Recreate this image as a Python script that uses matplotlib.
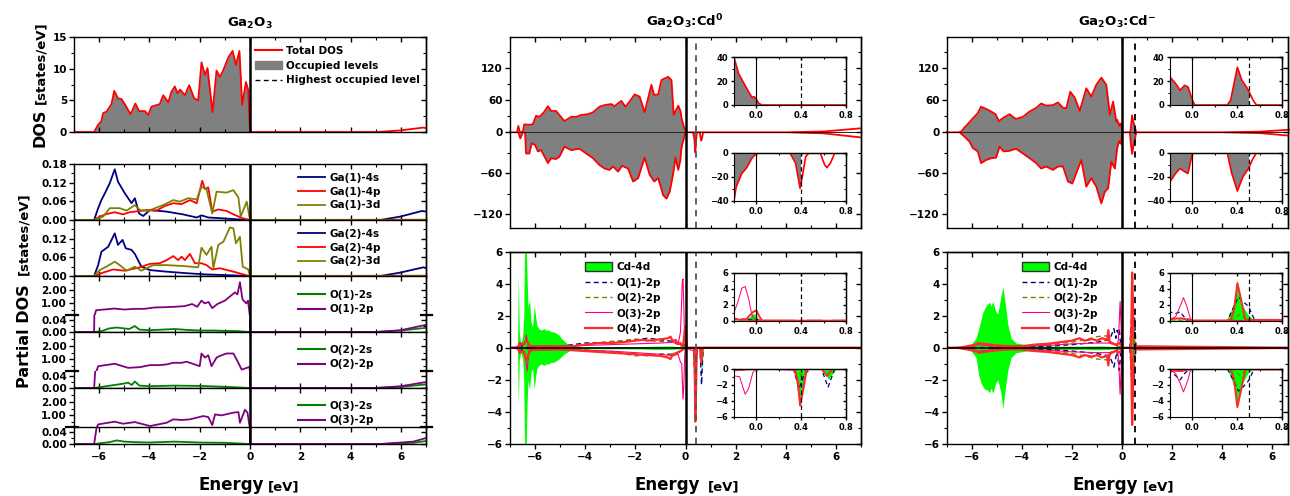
import matplotlib.pyplot as plt
from matplotlib.ticker import MultipleLocator, FormatStrFormatter
from matplotlib.patches import Rectangle, Patch
from matplotlib.lines import Line2D

W, H = 1290, 496

# ---------------- Ga2O3 : total DOS ----------------
tot_e = [-7, -6.2, -6.04, -5.91, -5.84, -5.71, -5.51, -5.4, -5.25, -5.11, -4.98, -4.75, -4.56, -4.41,
         -4.18, -4.05, -3.92, -3.59, -3.45, -3.25, -3.12, -2.99, -2.88, -2.78, -2.59, -2.42, -2.22,
         -2.06, -1.93, -1.79, -1.69, -1.49, -1.33, -1.2, -1.09, -0.86, -0.69, -0.56, -0.42, -0.31,
         -0.16, -0.07, 0.0, 5.05, 5.98, 6.9, 7.0]
tot_v = [0, 0, 1.15, 1.7, 3.0, 3.2, 4.4, 6.5, 5.3, 5.2, 4.4, 2.8, 4.5, 3.3, 3.3, 2.7, 4.0, 4.4, 5.8,
         4.7, 6.4, 7.2, 6.1, 6.7, 5.8, 7.4, 5.3, 5.0, 11.0, 9.0, 10.1, 3.1, 9.7, 8.7, 9.5, 11.8, 12.8,
         10.6, 12.8, 4.3, 7.9, 6.6, 0, 0, 0.25, 0.7, 0.6]

# Ga(1)
g1s_e = [-7, -6.2, -6.04, -5.91, -5.74, -5.58, -5.38, -5.25, -4.98, -4.71, -4.58, -4.41, -4.25, -3.98,
         -3.32, -2.66, -2.12, -1.93, -1.66, -1.2, -0.66, 0, 5.18, 5.98, 6.84, 7]
g1s_v = [0, 0, 0.038, 0.064, 0.091, 0.118, 0.163, 0.123, 0.086, 0.054, 0.070, 0.021, 0.013, 0.032,
         0.027, 0.018, 0.008, 0.015, 0.008, 0.006, 0.003, 0, 0, 0.011, 0.029, 0.027]
g1p_e = [-7, -6.2, -5.98, -5.71, -5.38, -5.05, -4.78, -4.38, -4.12, -3.72, -3.39, -3.05, -2.72, -2.39,
         -2.12, -1.9, -1.79, -1.66, -1.5, -1.26, -0.93, -0.6, -0.27, 0, 7]
g1p_v = [0, 0, 0.011, 0.019, 0.025, 0.018, 0.025, 0.029, 0.032, 0.030, 0.045, 0.054, 0.051, 0.064,
         0.054, 0.126, 0.099, 0.105, 0.027, 0.034, 0.029, 0.016, 0.005, 0, 0.001]
g1d_e = [-7, -6.2, -5.84, -5.58, -5.18, -4.91, -4.58, -4.38, -4.05, -3.78, -3.45, -3.05, -2.79, -2.46,
         -2.12, -1.93, -1.73, -1.5, -1.33, -0.93, -0.66, -0.46, -0.37, -0.13, 0, 7]
g1d_v = [0, 0, 0.011, 0.038, 0.038, 0.030, 0.048, 0.032, 0.029, 0.038, 0.048, 0.064, 0.059, 0.070,
         0.066, 0.107, 0.099, 0.021, 0.091, 0.088, 0.096, 0.072, 0.011, 0.059, 0, 0]

# Ga(2)
g2s_e = [-7, -6.2, -6.04, -5.91, -5.64, -5.38, -5.25, -5.07, -4.94, -4.71, -4.58, -4.32, -3.98, -3.32,
         -2.52, -1.73, -0.66, 0, 5.18, 5.98, 6.9, 7]
g2s_v = [0, 0, 0.035, 0.078, 0.094, 0.137, 0.1, 0.116, 0.089, 0.084, 0.071, 0.030, 0.019, 0.014,
         0.009, 0.005, 0.002, 0, 0, 0.011, 0.028, 0.025]
g2p_e = [-7, -6.2, -5.84, -5.44, -4.98, -4.38, -3.98, -3.59, -3.32, -3.05, -2.86, -2.72, -2.59, -2.39,
         -2.19, -1.93, -1.73, -1.5, -1.2, -0.66, -0.13, 0, 7]
g2p_v = [0, 0, 0.011, 0.021, 0.017, 0.028, 0.039, 0.041, 0.051, 0.064, 0.051, 0.062, 0.051, 0.071,
         0.041, 0.041, 0.035, 0.021, 0.025, 0.014, 0.002, 0, 0.001]
g2d_e = [-7, -6.2, -5.98, -5.71, -5.38, -5.18, -4.91, -4.58, -4.32, -3.85, -3.32, -2.66, -2.06, -1.93,
         -1.73, -1.53, -1.46, -1.26, -1.06, -0.8, -0.66, -0.56, -0.4, -0.29, -0.07, 0, 7]
g2d_v = [0, 0, 0.019, 0.030, 0.046, 0.035, 0.017, 0.030, 0.017, 0.035, 0.035, 0.032, 0.028, 0.091,
         0.068, 0.094, 0.025, 0.1, 0.11, 0.156, 0.153, 0.105, 0.126, 0.03, 0.021, 0, 0]

# O(1), O(2), O(3)
o1p_e = [-7, -6.2, -6.12, -5.8, -5.4, -5.0, -4.6, -4.2, -3.8, -3.4, -3.0, -2.6, -2.3, -2.1, -1.93, -1.8,
         -1.65, -1.5, -1.3, -1.0, -0.8, -0.6, -0.5, -0.4, -0.3, -0.15, -0.08, 0, 5.0, 6.0, 7.0]
o1p_v = [0, 0, 0.5, 0.55, 0.62, 0.55, 0.6, 0.6, 0.7, 0.72, 0.75, 0.8, 0.95, 0.75, 1.2, 1.0, 1.1, 0.65,
         0.95, 1.2, 1.5, 1.8, 1.65, 2.55, 1.3, 1.0, 1.2, 0, 0, 0.006, 0.024]
o1s_e = [-7, -6.2, -5.9, -5.6, -5.3, -5.0, -4.8, -4.58, -4.4, -4.0, -3.5, -3.0, -2.5, -2.0, -1.5, -1.0,
         -0.5, 0, 5.0, 6.0, 7.0]
o1s_v = [0, 0, 0.003, 0.012, 0.015, 0.012, 0.010, 0.020, 0.008, 0.006, 0.008, 0.010, 0.007, 0.005,
         0.005, 0.004, 0.003, 0, 0, 0.005, 0.014]
o2p_e = [-7, -6.2, -6.11, -6.04, -5.38, -4.85, -4.38, -3.98, -3.59, -3.32, -3.05, -2.72, -2.52, -2.39,
         -2.0, -1.93, -1.79, -1.66, -1.53, -1.33, -1.2, -0.93, -0.66, -0.5, -0.33, -0.13, -0.02, 0,
         5.0, 6.0, 7.0]
o2p_v = [0, 0, 0.12, 0.5, 0.68, 0.38, 0.43, 0.58, 0.58, 0.63, 0.75, 0.75, 0.83, 0.75, 0.5, 1.43, 1.13,
         1.3, 0.5, 1.13, 1.25, 1.43, 1.43, 0.88, 0.25, 0.38, 0.45, 0, 0, 0.006, 0.02]
o2s_e = [-7, -6.2, -5.8, -5.4, -5.0, -4.85, -4.7, -4.58, -4.4, -4.0, -3.0, -2.0, -1.65, -1.0, 0, 5.0,
         6.0, 7.0]
o2s_v = [0, 0, 0.005, 0.010, 0.015, 0.018, 0.010, 0.022, 0.008, 0.006, 0.008, 0.007, 0.006, 0.004, 0,
         0, 0.004, 0.012]
o3p_e = [-7, -6.2, -6.11, -6.04, -5.38, -5.05, -4.58, -3.98, -3.32, -3.05, -2.72, -2.39, -2.12, -1.86,
         -1.66, -1.5, -1.39, -1.13, -0.66, -0.46, -0.4, -0.2, -0.1, 0, 5.2, 6.5, 7.0]
o3p_v = [0, 0, 0.05, 0.34, 0.54, 0.39, 0.51, 0.22, 0.46, 0.71, 0.66, 0.71, 0.83, 0.95, 0.88, 0.29,
         1.07, 1.0, 1.2, 1.24, 0.46, 1.41, 1.2, 0, 0, 0.008, 0.02]
o3s_e = [-7, -6.2, -5.6, -5.3, -5.0, -4.5, -4.0, -3.0, -2.0, -1.0, 0, 5.2, 6.5, 7.0]
o3s_v = [0, 0, 0.006, 0.012, 0.008, 0.006, 0.005, 0.008, 0.005, 0.004, 0, 0, 0.004, 0.01]

# ---------------- Ga2O3:Cd0 : total DOS (spin up / down) ----------------
cd0u_e = [-7, -6.72, -6.67, -6.6, -6.49, -6.43, -6.23, -6.09, -5.96, -5.83, -5.65, -5.49, -5.36, -5.16,
          -5.03, -4.83, -4.56, -4.36, -4.16, -3.89, -3.69, -3.43, -3.23, -2.96, -2.83, -2.56, -2.4,
          -2.23, -2.03, -1.83, -1.63, -1.36, -1.25, -1.09, -0.96, -0.69, -0.56, -0.47, -0.29, -0.2,
          -0.16, -0.12, -0.07, -0.04, -0.02, 0.0, 0.02, 0.05, 4.0, 5.5, 7.0]
cd0u_v = [0, 0, 12, 0, 1, 15, 14, 15, 31, 29, 37.5, 49, 40, 40, 32.5, 21, 29, 29, 32.5, 34, 37.5, 48,
          51, 53, 49, 59, 48, 57.5, 71, 67, 37.5, 89, 70, 71, 98, 104, 98, 32.5, 50, 40, 26.6, 19.6,
          11.2, 6.4, 7, 4.8, 1.4, 0, 0, 1.5, 7.5]
cd0d_e = [-7, -6.67, -6.59, -6.49, -6.4, -6.36, -6.23, -6.13, -6.0, -5.89, -5.76, -5.49, -5.36, -5.16,
          -5.03, -4.83, -4.56, -4.23, -3.96, -3.69, -3.43, -3.23, -3.03, -2.89, -2.69, -2.53, -2.29,
          -2.09, -1.89, -1.63, -1.43, -1.25, -1.09, -0.89, -0.76, -0.63, -0.49, -0.4, -0.29, -0.2,
          -0.18, -0.13, -0.09, -0.04, 0.0, 0.3, 0.35, 0.39, 0.41, 0.44, 0.47, 0.57, 0.61, 0.63, 0.66,
          0.7, 4.0, 5.5, 7.0]
cd0d_v = [0, 0, -9, 0, 0, -31, -31, -16, -18.5, -28, -26, -45, -38, -39, -35.6, -21, -26, -24, -31,
          -38, -48, -53, -55, -50, -57.5, -49, -53, -72, -67, -37, -62, -72, -67, -92, -97, -87, -60,
          -37, -55, -40, -28, -17, -12.8, -4.4, 0, 0, -8.6, -29.4, -19.7, -3, 0, 0, -10, -12.2, -8.6,
          0, 0, -1.5, -7.5]

# ---------------- Ga2O3:Cd- : total DOS (spin up / down) ----------------
cdmu_e = [-7, -6.56, -6.43, -6.29, -6.09, -5.96, -5.76, -5.63, -5.43, -5.23, -5.05, -4.92, -4.73, -4.49,
          -4.36, -4.23, -3.96, -3.69, -3.43, -3.23, -3.03, -2.76, -2.56, -2.36, -2.23, -2.07, -1.89,
          -1.69, -1.43, -1.23, -1.03, -0.83, -0.63, -0.49, -0.36, -0.23, -0.2, -0.15, -0.11, -0.07,
          -0.04, 0.0, 0.02, 0.31, 0.34, 0.4, 0.44, 0.49, 0.54, 0.57, 4.0, 5.5, 6.7]
cdmu_v = [0, 0, 1, 9, 19, 26, 36, 48, 44, 39, 34, 21, 27.5, 34, 29, 25, 29, 39, 46, 54, 50, 51, 56, 46,
          45, 76, 65, 40, 82.5, 67, 89, 102.5, 89, 32.5, 57.5, 20, 23.4, 18, 12.4, 16.5, 15.2, 4.1, 0,
          0, 4.1, 31.7, 20.7, 13.8, 4, 0, 0, 1.2, 5]
cdmd_e = [-7, -6.49, -6.29, -6.09, -5.96, -5.76, -5.63, -5.43, -5.23, -5.03, -4.89, -4.73, -4.49, -4.23,
          -3.96, -3.69, -3.43, -3.23, -3.03, -2.76, -2.56, -2.36, -2.16, -1.99, -1.76, -1.63, -1.43,
          -1.23, -1.03, -0.83, -0.69, -0.56, -0.43, -0.29, -0.2, -0.15, -0.11, -0.07, -0.04, 0.0, 0.31,
          0.35, 0.4, 0.45, 0.5, 0.54, 0.57, 4.0, 5.5, 6.7]
cdmd_v = [0, 0, -6.3, -13.7, -23, -28, -45, -40.5, -38, -37, -21, -28, -27, -24, -31, -38, -45, -53,
          -50, -55, -50, -50, -72, -75, -53, -40.5, -79.5, -67, -79.5, -104, -87, -82, -43, -53, -24,
          -17, -12.8, -15.6, -17, 0, 0, -17, -31.7, -19.7, -12.8, -4.4, 0, 0, -1.2, -5]

# ---------------- Ga2O3:Cd0 : partial DOS ----------------
c0cd_ue = [-7, -6.7, -6.67, -6.63, -6.58, -6.5, -6.45, -6.42, -6.36, -6.32, -6.28, -6.22, -6.16, -6.1,
           -6.03, -5.98, -5.93, -5.85, -5.75, -5.65, -5.55, -5.45, -5.35, -5.25, -5.15, -5.05, -4.95,
           -4.85, -4.75, -4.6, -4.4, -3.23, -1.89, -1.23, -0.56, -0.16, -0.06, -0.03, 0.0, 0.03, 7]
c0cd_uv = [0, 0, 4.5, 1.0, 0.3, 0.6, 2.0, 6.5, 6.5, 4.5, 2.5, 3.0, 1.6, 1.3, 2.6, 2.0, 1.4, 1.2, 1.1,
           1.2, 1.1, 1.1, 1.0, 1.0, 0.9, 0.8, 0.6, 0.45, 0.3, 0.15, 0.08, 0.06, 0.07, 0.1, 0.12, 0.05,
           0.3, 0.85, 0.7, 0, 0]
c0cd_de = [-7, -6.7, -6.67, -6.63, -6.58, -6.5, -6.45, -6.42, -6.36, -6.32, -6.28, -6.22, -6.16, -6.1,
           -6.03, -5.98, -5.93, -5.85, -5.75, -5.65, -5.55, -5.45, -5.35, -5.25, -5.15, -5.05, -4.95,
           -4.85, -4.75, -4.6, -4.4, -3.23, -1.89, -1.23, -0.56, -0.16, 0.0, 0.33, 0.36, 0.39, 0.42,
           0.46, 0.58, 0.62, 0.65, 0.68, 0.72, 7]
c0cd_dv = [0, 0, -3.6, -0.8, -0.3, -0.6, -2.0, -6.5, -6.5, -3.5, -2.0, -2.6, -1.5, -1.3, -2.6, -1.8,
           -1.3, -1.1, -1.0, -1.1, -1.0, -1.0, -0.9, -0.9, -0.8, -0.7, -0.55, -0.4, -0.3, -0.15, -0.08,
           -0.06, -0.07, -0.1, -0.1, -0.05, 0, 0, -1.2, -4.0, -2.0, 0, 0, -0.8, -1.4, -0.8, 0, 0]
c0o1_ue = [-7, -6.7, -6.6, -6.5, -6.0, -5.0, -4.0, -3.0, -2.0, -1.5, -1.0, -0.5, -0.2, 0.0, 0.05, 7]
c0o1_uv = [0, 0, 0.4, 0, 0.05, 0.1, 0.3, 0.35, 0.5, 0.6, 0.5, 0.4, 0.2, 0.15, 0, 0]
c0o1_de = [-7, -6.7, -6.6, -6.5, -6.0, -5.0, -4.0, -3.0, -2.0, -1.5, -1.0, -0.5, -0.2, 0.0, 0.33,
           0.38, 0.43, 0.5, 0.58, 0.64, 0.7, 7]
c0o1_dv = [0, 0, -0.4, 0, -0.05, -0.1, -0.15, -0.25, -0.4, -0.5, -0.4, -0.4, -0.2, 0, 0, -2.5, -0.6,
           0, 0, -2.3, 0, 0]
c0o2_ue = [-7, -6.6, -6.3, -6.0, -5.0, -4.0, -3.5, -3.0, -2.5, -2.0, -1.5, -1.0, -0.5, -0.2, 0.0, 7]
c0o2_uv = [0, 0, 0.1, 0.05, 0.05, 0.2, 0.3, 0.4, 0.45, 0.55, 0.45, 0.4, 0.35, 0.2, 0, 0]
c0o2_de = [-7, -6.6, -6.3, -6.0, -5.0, -4.0, -3.0, -2.5, -2.0, -1.5, -1.0, -0.5, -0.2, 0.0, 0.35,
           0.4, 0.45, 7]
c0o2_dv = [0, 0, -0.1, -0.05, -0.05, -0.15, -0.25, -0.35, -0.5, -0.45, -0.4, -0.4, -0.2, 0, 0, -0.8,
           0, 0]
c0o3_ue = [-7, -6.6, -6.4, -6.35, -6.28, -6.1, -5.0, -4.0, -3.0, -2.0, -1.0, -0.5, -0.3, -0.2, -0.16,
           -0.13, -0.1, -0.07, -0.04, -0.01, 0.03, 7]
c0o3_uv = [0, 0.1, 0.3, 0.8, 0.2, 0.1, 0.1, 0.15, 0.2, 0.25, 0.3, 0.35, 0.2, 1.0, 2.6, 4.1, 4.3, 2.8,
           0.7, 0.1, 0, 0]
c0o3_de = [-7, -6.6, -6.4, -6.32, -6.25, -6.1, -5.0, -4.0, -3.0, -2.0, -1.0, -0.5, -0.3, -0.2, -0.15,
           -0.1, -0.07, -0.03, 0.0, 0.34, 0.36, 0.39, 0.41, 0.44, 0.47, 7]
c0o3_dv = [0, -0.1, -0.4, -1.45, -0.3, -0.15, -0.1, -0.15, -0.2, -0.3, -0.4, -0.5, -0.4, -0.9, -1.0,
           -3.2, -2.5, -0.4, 0, -0.2, -1.4, -4.3, -2.9, -0.4, 0, 0]
c0o4_ue = [-7, -6.7, -6.6, -6.45, -6.35, -6.2, -5.5, -5.0, -4.5, -4.0, -3.5, -3.0, -2.5, -2.0, -1.7,
           -1.5, -1.2, -0.9, -0.7, -0.6, -0.5, -0.4, -0.3, -0.2, -0.15, -0.09, -0.03, 0.0, 0.02, 0.05, 7]
c0o4_uv = [0, 0, 0.3, 0.2, 0.5, 0.1, 0.1, 0.1, 0.1, 0.2, 0.3, 0.3, 0.35, 0.45, 0.5, 0.45, 0.5, 0.55,
           0.6, 0.7, 0.4, 0.5, 0.25, 0.3, 0.1, 0.2, 1.1, 1.3, 0.7, 0, 0]
c0o4_de = [-7, -6.7, -6.6, -6.45, -6.35, -6.2, -5.5, -5.0, -4.0, -3.0, -2.0, -1.5, -1.0, -0.7, -0.6,
           -0.5, -0.3, -0.2, 0.0, 0.34, 0.37, 0.39, 0.42, 0.45, 0.58, 0.63, 0.68, 7]
c0o4_dv = [0, 0, -0.3, -0.2, -0.8, -0.1, -0.1, -0.1, -0.2, -0.3, -0.4, -0.45, -0.5, -0.6, -0.7, -0.4,
           -0.3, -0.2, 0, 0, -1.5, -4.6, -2.5, 0, 0, -0.9, 0, 0]

# ---------------- Ga2O3:Cd- : partial DOS ----------------
cmcd_ue = [-7, -6.56, -6.23, -6.03, -5.83, -5.72, -5.63, -5.56, -5.47, -5.39, -5.29, -5.23, -5.16,
           -5.05, -4.96, -4.85, -4.76, -4.65, -4.56, -4.43, -4.23, -3.83, -3.29, -1.96, -0.89, -0.23,
           0.0, 0.31, 0.35, 0.38, 0.4, 0.42, 0.45, 0.5, 0.54, 0.56, 7]
cmcd_uv = [0, 0, 0.08, 0.2, 0.6, 1.2, 1.75, 2.2, 2.5, 2.7, 2.85, 2.6, 2.9, 2.3, 2.1, 3.1, 3.8, 2.6,
           1.45, 0.6, 0.3, 0.2, 0.12, 0.1, 0.12, 0.08, 0, 0, 1.3, 2.6, 5.1, 3.9, 1.8, 0.7, 0.15, 0, 0]
cmcd_de = [-7, -6.56, -6.23, -6.03, -5.83, -5.72, -5.63, -5.56, -5.47, -5.39, -5.29, -5.23, -5.16,
           -5.05, -4.96, -4.85, -4.76, -4.65, -4.56, -4.43, -4.23, -3.83, -3.29, -1.96, -0.89, -0.23,
           0.0, 0.31, 0.35, 0.38, 0.4, 0.42, 0.45, 0.5, 0.55, 7]
cmcd_dv = [0, 0, -0.08, -0.2, -0.6, -1.7, -2.2, -2.4, -2.6, -2.6, -2.8, -2.5, -2.85, -2.2, -2.0,
           -2.7, -3.8, -2.4, -1.4, -0.6, -0.3, -0.2, -0.12, -0.1, -0.12, -0.08, 0, 0, -1.3, -2.6,
           -5.0, -3.8, -1.8, -0.6, 0, 0]
cmo1_ue = [-7, -6.0, -5.0, -4.0, -3.0, -2.0, -1.0, -0.7, -0.5, -0.4, -0.33, -0.25, -0.2, -0.15,
           -0.11, -0.07, -0.02, 0.0, 0.31, 0.37, 0.41, 0.45, 0.5, 0.54, 0.56, 7]
cmo1_uv = [0, 0, 0.05, 0.08, 0.1, 0.2, 0.35, 0.45, 0.5, 0.9, 1.2, 0.6, 1.1, 0.9, 1.1, 0.4, 0.1, 0, 0,
           1.8, 3.0, 2.4, 1.8, 0.5, 0, 0]
cmo1_de = [-7, -6.0, -5.0, -4.0, -3.0, -2.0, -1.0, -0.7, -0.5, -0.4, -0.33, -0.25, -0.2, -0.14,
           -0.11, -0.07, -0.04, 0.0, 0.31, 0.37, 0.41, 0.45, 0.5, 0.55, 7]
cmo1_dv = [0, 0, -0.05, -0.08, -0.1, -0.2, -0.35, -0.45, -0.5, -0.9, -1.2, -0.6, -0.2, -1.0, -1.4,
           -0.6, -0.2, 0, 0, -1.6, -2.8, -2.3, -1.5, 0, 0]
cmo2_ue = [-7, -6.0, -5.0, -4.0, -3.0, -2.0, -1.5, -1.0, -0.6, -0.5, -0.3, 0.0, 0.35, 0.42, 0.5, 7]
cmo2_uv = [0, 0.05, 0.05, 0.1, 0.2, 0.35, 0.5, 0.7, 0.75, 0.3, 0.2, 0, 0, 0.8, 0, 0]
cmo2_de = [-7, -6.0, -5.0, -4.0, -3.0, -2.0, -1.5, -1.0, -0.6, -0.5, -0.3, 0.0, 0.35, 0.42, 0.5, 7]
cmo2_dv = [0, -0.05, -0.05, -0.1, -0.2, -0.35, -0.5, -0.7, -0.75, -0.3, -0.2, 0, 0, -0.8, 0, 0]
cmo3_ue = [-7, -6.2, -5.7, -5.0, -4.0, -3.0, -2.0, -1.0, -0.5, -0.3, -0.2, -0.15, -0.11, -0.08,
           -0.05, -0.02, 0.0, 7]
cmo3_uv = [0, 0.05, 0.2, 0.1, 0.1, 0.15, 0.25, 0.3, 0.3, 0.2, 0.1, 0.5, 1.8, 2.9, 1.8, 0.3, 0, 0]
cmo3_de = [-7, -6.2, -5.7, -5.0, -4.0, -3.0, -2.0, -1.0, -0.5, -0.3, -0.2, -0.15, -0.11, -0.08,
           -0.04, -0.02, 0.0, 7]
cmo3_dv = [0, -0.05, -0.2, -0.1, -0.1, -0.15, -0.25, -0.3, -0.3, -0.2, -0.1, -0.6, -1.8, -2.9, -1.4,
           -0.3, 0, 0]
cmo4_ue = [-7, -6.56, -6.0, -5.7, -5.5, -5.0, -4.5, -4.0, -3.5, -3.0, -2.5, -2.0, -1.7, -1.5, -1.2,
           -1.0, -0.8, -0.6, -0.55, -0.5, -0.4, -0.25, -0.1, 0.0, 0.34, 0.37, 0.4, 0.44, 0.47, 7]
cmo4_uv = [0, 0, 0.15, 0.3, 0.25, 0.15, 0.1, 0.1, 0.2, 0.25, 0.35, 0.45, 0.6, 0.45, 0.55, 0.45, 0.6,
           0.5, 1.1, 0.4, 0.3, 0.2, 0.3, 0, 0, 1.3, 4.7, 2.2, 0.1, 0]
cmo4_de = cmo4_ue
cmo4_dv = [0, 0, -0.15, -0.3, -0.25, -0.15, -0.1, -0.1, -0.2, -0.25, -0.35, -0.45, -0.6, -0.45,
           -0.55, -0.45, -0.6, -0.5, -1.1, -0.4, -0.3, -0.2, -0.3, 0, 0, -1.3, -4.8, -2.2, -0.1, 0]

o_labels = ['O(1)-2p', 'O(2)-2p', 'O(3)-2p', 'O(4)-2p']

plt.rcParams['font.family'] = ['DejaVu Sans']
plt.rcParams['font.weight'] = 'bold'
plt.rcParams['mathtext.default'] = 'regular'
plt.rcParams['axes.linewidth'] = 1.0
plt.rcParams['xtick.major.width'] = 1.0
plt.rcParams['ytick.major.width'] = 1.0
plt.rcParams['xtick.minor.width'] = 0.8
plt.rcParams['ytick.minor.width'] = 0.8

fig = plt.figure(figsize=(W / 100, H / 100), dpi=100)

GREY = '#808080'
o_styles = [dict(color='#000080', lw=1.0, ls=(0, (3.5, 2.5))),
            dict(color='#808000', lw=1.0, ls=(0, (3.5, 2.5))),
            dict(color='#ff0080', lw=0.8),
            dict(color='#ff2a2a', lw=1.6)]


def box(x0, y0, x1, y1):
    return fig.add_axes([x0 / W, 1 - y1 / H, (x1 - x0) / W, (y1 - y0) / H])


def setup(ax, xlim, ylim, ymaj, ymin, fs=7.5, xlabels=False, xout=False, top=True, bottom=True,
          xmaj=2, xmin=1, yfmt=None, small=False):
    big, sm = (2.5, 1.5) if small else (3.5, 2.0)
    ax.xaxis.set_major_locator(MultipleLocator(xmaj))
    ax.xaxis.set_minor_locator(MultipleLocator(xmin))
    ax.set_yticks(ymaj)
    ax.set_yticks(ymin, minor=True)
    if yfmt:
        ax.yaxis.set_major_formatter(FormatStrFormatter(yfmt))
    ax.tick_params(axis='y', which='both', direction='out', right=False, labelsize=fs, pad=1.5)
    ax.tick_params(axis='x', which='both', direction='out' if xout else 'in',
                   top=top and not xout, bottom=bottom, labelbottom=xlabels, labelsize=fs, pad=2)
    ax.tick_params(which='major', length=big)
    ax.tick_params(which='minor', length=sm)
    sy = ax.secondary_yaxis('right')
    sy.set_ticks(ymaj)
    sy.set_ticks(ymin, minor=True)
    sy.tick_params(which='both', direction='in', labelright=False)
    sy.tick_params(which='major', length=big)
    sy.tick_params(which='minor', length=sm)
    if xout and top:
        sx = ax.secondary_xaxis('top')
        sx.xaxis.set_major_locator(MultipleLocator(xmaj))
        sx.xaxis.set_minor_locator(MultipleLocator(xmin))
        sx.tick_params(which='both', direction='in', labeltop=False)
        sx.tick_params(which='major', length=big)
        sx.tick_params(which='minor', length=sm)
    ax.set_xlim(*xlim)
    ax.set_ylim(*ylim)


def occupied(ax, e, v, hol):
    x0, x1 = ax.get_xlim()
    y0, y1 = ax.get_ylim()
    poly = ax.fill_between(e, v, 0, color=GREY, lw=0)
    poly.set_clip_path(Rectangle((x0, y0), hol - x0, y1 - y0, transform=ax.transData))


def legend(ax, handles, labels, px, py, spacing=0.35, hh=0.7):
    ax.legend(handles, labels, loc='upper left', bbox_to_anchor=(px / W, 1 - py / H),
              bbox_transform=fig.transFigure, frameon=False, fontsize=7.5, borderpad=0,
              borderaxespad=0, handlelength=2.6, handletextpad=0.4, labelspacing=spacing,
              handleheight=hh)


# ================= left column : Ga2O3 =================
ax = box(74, 37, 426, 132)
setup(ax, (-7, 7), (0, 15), [0, 5, 10, 15], [2.5, 7.5, 12.5])
occupied(ax, tot_e, tot_v, 0)
ax.plot(tot_e, tot_v, color='red', lw=1.3)
ax.axvline(0, color='k', lw=1.8)
legend(ax, [Line2D([], [], color='red', lw=1.5), Patch(color=GREY),
            Line2D([], [], color='k', lw=1.0, ls=(0, (3.5, 2.5)))],
       ['Total DOS', 'Occupied levels', 'Highest occupied level'], 255, 46, spacing=0.45)

ga_panels = [(164, 220, g1s_e, g1s_v, g1p_e, g1p_v, g1d_e, g1d_v, 'Ga(1)', [0, 0.06, 0.12, 0.18], 173),
             (220, 276, g2s_e, g2s_v, g2p_e, g2p_v, g2d_e, g2d_v, 'Ga(2)', [0, 0.06, 0.12], 229)]
for y0, y1, se, sv, pe, pv, de, dv, name, yt, ly in ga_panels:
    ax = box(74, y0, 426, y1)
    setup(ax, (-7, 7), (0, 0.18), yt, [0.03, 0.09, 0.15], yfmt='%.2f')
    ax.plot(se, sv, color='#000080', lw=1.3, label=name + '-4s')
    ax.plot(pe, pv, color='red', lw=1.3, label=name + '-4p')
    ax.plot(de, dv, color='#808000', lw=1.3, label=name + '-3d')
    ax.axvline(0, color='k', lw=1.8)
    h, l = ax.get_legend_handles_labels()
    legend(ax, h, l, 298, ly)

o_panels = [(276, 315, 332, o1s_e, o1s_v, o1p_e, o1p_v, 'O(1)', 290),
            (332, 371, 388, o2s_e, o2s_v, o2p_e, o2p_v, 'O(2)', 345),
            (388, 427, 444, o3s_e, o3s_v, o3p_e, o3p_v, 'O(3)', 401)]
for i, (y0, yb, y1, se, sv, pe, pv, name, ly) in enumerate(o_panels):
    last = i == len(o_panels) - 1
    # broken axis: 2p values in the upper part, 2s values in the lower part
    up = box(74, y0, 426, yb)
    setup(up, (-7, 7), (0.15, 3.0), [1, 2], [0.5, 1.5, 2.5], yfmt='%.2f', bottom=False)
    up.spines['bottom'].set_visible(False)
    lo = box(74, yb, 426, y1)
    setup(lo, (-7, 7), (0, 0.057), [0, 0.04], [0.02], yfmt='%.2f', top=last, xlabels=last,
          xout=last)
    if not last:
        lo.tick_params(axis='x', which='both', top=False)
    lo.spines['top'].set_visible(False)
    up.plot(pe, pv, color='#800080', lw=1.3)
    lo.plot(se, sv, color='#008000', lw=1.3)
    lo.plot(pe, pv, color='#800080', lw=1.3)
    for a in (up, lo):
        a.axvline(0, color='k', lw=1.8)
    for xs in ([-0.022, 0.012], [0.986, 1.018]):
        lo.plot(xs, [1, 1], transform=lo.transAxes, color='k', lw=1.6, clip_on=False)
    legend(up, [Line2D([], [], color='#008000', lw=1.5), Line2D([], [], color='#800080', lw=1.5)],
           [name + '-2s', name + '-2p'], 298, ly, spacing=0.4)

# ================= Cd doped columns =================
columns = [dict(x0=510, x1=861, xr=7.0, hol=0.4, dash='#555555',
                ue=cd0u_e, uv=cd0u_v, de=cd0d_e, dv=cd0d_v,
                cd=(c0cd_ue, c0cd_uv, c0cd_de, c0cd_dv),
                ox=[(c0o1_ue, c0o1_uv, c0o1_de, c0o1_dv), (c0o2_ue, c0o2_uv, c0o2_de, c0o2_dv),
                    (c0o3_ue, c0o3_uv, c0o3_de, c0o3_dv), (c0o4_ue, c0o4_uv, c0o4_de, c0o4_dv)],
                ix0=734, ix1=846, lx=585),
           dict(x0=946.7, x1=1288, xr=6.62, hol=0.5, dash='k',
                ue=cdmu_e, uv=cdmu_v, de=cdmd_e, dv=cdmd_v,
                cd=(cmcd_ue, cmcd_uv, cmcd_de, cmcd_dv),
                ox=[(cmo1_ue, cmo1_uv, cmo1_de, cmo1_dv), (cmo2_ue, cmo2_uv, cmo2_de, cmo2_dv),
                    (cmo3_ue, cmo3_uv, cmo3_de, cmo3_dv), (cmo4_ue, cmo4_uv, cmo4_de, cmo4_dv)],
                ix0=1170, ix1=1282.3, lx=1022)]


def pdos(ax, c, lw_scale=1.0):
    ax.fill_between(c['cd'][0], c['cd'][1], 0, color='#00ff00', lw=0)
    ax.fill_between(c['cd'][2], c['cd'][3], 0, color='#00ff00', lw=0)
    for (ue, uv, de, dv), st in zip(c['ox'], o_styles):
        s = dict(st)
        s['lw'] = st['lw'] * lw_scale
        ax.plot(ue, uv, **s)
        ax.plot(de, dv, **s)


for c in columns:
    xl = (-7, c['xr'])
    # total DOS, spin up (upper half) and spin down (lower half)
    up = box(c['x0'], 37, c['x1'], 132.3)
    setup(up, xl, (0, 178.7), [60, 120], [30, 90, 150], bottom=False)
    up.spines['bottom'].set_visible(False)
    dn = box(c['x0'], 132.3, c['x1'], 228)
    setup(dn, xl, (-140, 0), [-120, -60, 0], [-30, -90], top=False)
    dn.spines['top'].set_visible(False)
    occupied(up, c['ue'], c['uv'], c['hol'])
    occupied(dn, c['de'], c['dv'], c['hol'])
    up.plot(c['ue'], c['uv'], color='red', lw=1.3, clip_on=False)
    dn.plot(c['de'], c['dv'], color='red', lw=1.3)
    dn.axhline(0, color='k', lw=1.2)
    for a in (up, dn):
        a.axvline(0, color='k', lw=1.8)
        a.axvline(c['hol'], color=c['dash'], lw=1.3, ls=(0, (3.5, 3)))

    # partial DOS
    pd = box(c['x0'], 251.7, c['x1'], 444)
    setup(pd, xl, (-6, 6), [-6, -4, -2, 0, 2, 4, 6], [-5, -3, -1, 1, 3, 5], xlabels=True, xout=True)
    pdos(pd, c)
    pd.axhline(0, color='k', lw=1.2)
    pd.axvline(0, color='k', lw=1.8)
    pd.axvline(c['hol'], color=c['dash'], lw=1.3, ls=(0, (3.5, 3)))
    legend(pd, [Patch(facecolor='#00ff00', edgecolor='#303030', lw=1.0)] +
           [Line2D([], [], **st) for st in o_styles], ['Cd-4d'] + o_labels, c['lx'], 262,
           spacing=0.5, hh=1.0)

    # insets
    insets = [(57.3, 105, 'tdos', (0, 40), [0, 20, 40], [10, 30], True),
              (153, 201, 'tdos', (-40, 0), [-40, -20, 0], [-30, -10], False),
              (273, 320.7, 'pdos', (0, 6), [0, 2, 4, 6], [1, 3, 5], True),
              (368.7, 416.7, 'pdos', (-6, 0), [-6, -4, -2, 0], [-5, -3, -1], False)]
    for y0, y1, kind, yl, yt, ym, is_up in insets:
        ia = box(c['ix0'], y0, c['ix1'], y1)
        setup(ia, (-0.2, 0.8), yl, yt, ym, fs=6, xlabels=True, xout=True, xmaj=0.4, xmin=0.2,
              small=True)
        ia.xaxis.set_major_formatter(FormatStrFormatter('%.1f'))
        for s in ia.spines.values():
            s.set_linewidth(0.8)
        if kind == 'tdos':
            e, v = (c['ue'], c['uv']) if is_up else (c['de'], c['dv'])
            occupied(ia, e, v, c['hol'])
            ia.plot(e, v, color='red', lw=1.2)
        else:
            pdos(ia, c, lw_scale=0.9)
        ia.axvline(0, color='k', lw=0.8)
        ia.axvline(c['hol'], color='k', lw=0.9, ls=(0, (3.5, 2.5)))

# ================= texts =================
fig.text(250 / W, 1 - 23 / H, 'Ga$_2$O$_3$', ha='center', va='center', fontsize=9.5)
fig.text(685 / W, 1 - 22 / H, 'Ga$_2$O$_3$:Cd$^0$', ha='center', va='center', fontsize=9.5)
fig.text(1117 / W, 1 - 22 / H, 'Ga$_2$O$_3$:Cd$^{-}$', ha='center', va='center', fontsize=9.5)

fig.text(40 / W, 1 - 147 / H, 'DOS', rotation=90, ha='center', va='bottom', fontsize=11.5)
fig.text(41 / W, 1 - 104 / H, '[states/eV]', rotation=90, ha='center', va='bottom', fontsize=9.5)
fig.text(25 / W, 1 - 388 / H, 'Partial DOS', rotation=90, ha='center', va='bottom', fontsize=11.5)
fig.text(24 / W, 1 - 275 / H, '[states/eV]', rotation=90, ha='center', va='bottom', fontsize=9.5)

for xe, xb in [(199, 268), (635, 708), (1072, 1143)]:
    fig.text(xe / W, 1 - 490 / H, 'Energy', va='baseline', fontsize=12)
    fig.text(xb / W, 1 - 490 / H, '[eV]', va='baseline', fontsize=9.5)

fig.savefig('out.png', dpi=100)
